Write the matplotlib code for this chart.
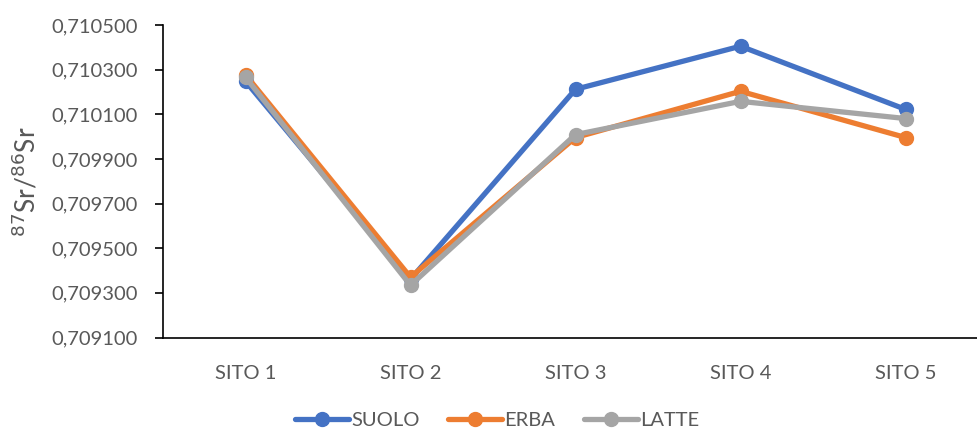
import matplotlib.pyplot as plt

plt.rcParams['font.family'] = ['Lato', 'DejaVu Sans']

sites = ['SITO 1', 'SITO 2', 'SITO 3', 'SITO 4', 'SITO 5']
suolo = [0.710248, 0.709361, 0.710212, 0.710405, 0.710122]
erba = [0.710277, 0.709370, 0.709996, 0.710203, 0.709996]
latte = [0.710266, 0.709334, 0.710009, 0.710158, 0.710081]
yticks = [0.709100, 0.709300, 0.709500, 0.709700, 0.709900, 0.710100, 0.710300, 0.710500]

series = [('SUOLO', suolo, '#4472C4'), ('ERBA', erba, '#ED7D31'), ('LATTE', latte, '#A5A5A5')]

fig = plt.figure(figsize=(9.77, 4.30), dpi=100)
ax = fig.add_axes([163 / 977, 1 - 337.5 / 430, 814 / 977, 312.5 / 430])

x = range(len(sites))
for name, vals, col in series:
    ax.plot(x, vals, '-o', color=col, lw=3.8, markersize=10, label=name,
            solid_capstyle='round')

ax.set_xlim(-0.5, -0.5 + 814 / 165)
ax.set_ylim(0.709100, 0.710500)
ax.set_yticks(yticks)
ax.set_yticklabels([f'{v:.6f}'.replace('.', ',') for v in yticks])
ax.set_xticks(list(x))
ax.set_xticklabels(sites)

for s in ['top', 'right']:
    ax.spines[s].set_visible(False)
ax.spines['left'].set_linewidth(1.2)
ax.spines['bottom'].set_linewidth(1.2)
ax.tick_params(axis='y', length=6, width=1.2, colors='black', labelcolor='#595959',
               labelsize=14.5, pad=12)
ax.tick_params(axis='x', length=0, labelcolor='#595959', labelsize=14.5, pad=20)

ax.set_ylabel(r'$^{87}$Sr/$^{86}$Sr', fontsize=19, color='#595959', labelpad=8)

ax.legend(loc='center', bbox_to_anchor=((497 - 163) / 814, (337.5 - 420) / 312.5),
          ncol=3, frameon=False, fontsize=14.5, handlelength=2.7, columnspacing=1.4,
          handletextpad=0.1, labelcolor='#595959')

fig.savefig('out.png', dpi=100, facecolor='white')
